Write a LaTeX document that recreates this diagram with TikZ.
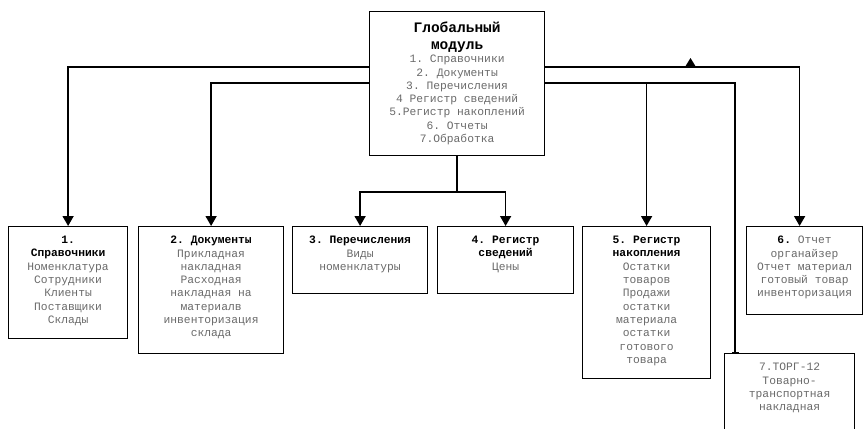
\documentclass[tikz,border=0pt]{standalone}
\usepackage{fontspec}
\setmonofont{Liberation Mono}
\usetikzlibrary{arrows.meta}
\definecolor{bodygray}{HTML}{6A6A6A}
\tikzset{
  box/.style={draw, line width=1.2pt, anchor=north west, inner sep=0pt},
  txt/.style={anchor=north, align=center, font=\fontsize{11.3}{13.3}\selectfont\ttfamily, text=bodygray, inner sep=0pt},
  bigtitle/.style={anchor=north, align=center, font=\fontsize{14.5}{17}\selectfont\ttfamily\bfseries, text=black, inner sep=0pt},
  conn/.style={line width=1.6pt},
  arr/.style={conn, -{Triangle[width=11pt,length=10pt]}},
  barend/.style={conn, -{Bar[width=7pt,line width=1.2pt]}},
}
\newcommand{\ttl}[1]{\textcolor{black}{\bfseries #1}}
\begin{document}
\begin{tikzpicture}[x=1pt,y=-1pt]
\useasboundingbox (0,0) rectangle (866,428);
\clip (0,0) rectangle (866,428);
\fill[white] (0,0) rectangle (866,428);

% levels of the connectors
\coordinate (yA) at (0,67);
\coordinate (yB) at (0,83);
\coordinate (yC) at (0,192);

% central box
\node[box, minimum width=175pt, minimum height=144pt] (g) at (369,11) {};
\node[bigtitle] (gt) at ([yshift=-11pt]g.north) {Глобальный\\модуль};
\node[txt] (gb) at ([yshift=-44pt]g.north) {1. Справочники\\2. Документы\\3. Перечисления\\4 Регистр сведений\\5.Регистр накоплений\\6. Отчеты\\7.Обработка};

% bottom boxes
\node[box, minimum width=119pt, minimum height=112pt] (b1) at (8,226) {};
\node[txt] (t1) at ([yshift=-10pt]b1.north) {\ttl{1.}\\\ttl{Справочники}\\Номенклатура\\Сотрудники\\Клиенты\\Поставщики\\Склады};

\node[box, minimum width=145pt, minimum height=127pt] (b2) at (138,226) {};
\node[txt] (t2) at ([yshift=-10pt]b2.north) {\ttl{2. Документы}\\Прикладная\\накладная\\Расходная\\накладная на\\материалв\\инвенторизация\\склада};

\node[box, minimum width=135pt, minimum height=67pt] (b3) at (292,226) {};
\node[txt] (t3) at ([yshift=-10pt]b3.north) {\ttl{3. Перечисления}\\Виды\\номенклатуры};

\node[box, minimum width=136pt, minimum height=67pt] (b4) at (437,226) {};
\node[txt] (t4) at ([yshift=-10pt]b4.north) {\ttl{4. Регистр}\\\ttl{сведений}\\Цены};

\node[box, minimum width=128pt, minimum height=152pt] (b5) at (582,226) {};
\node[txt] (t5) at ([yshift=-10pt]b5.north) {\ttl{5. Регистр}\\\ttl{накопления}\\Остатки\\товаров\\Продажи\\остатки\\материала\\остатки\\готового\\товара};

\node[box, minimum width=116pt, minimum height=88pt] (b6) at (746,226) {};
\node[txt] (t6) at ([yshift=-10pt]b6.north) {\ttl{6.} Отчет\\органайзер\\Отчет материал\\готовый товар\\инвенторизация};

\node[box, minimum width=130pt, minimum height=110pt] (b7) at (724,353) {};
\node[txt] (t7) at ([yshift=-10pt]b7.north) {7.ТОРГ-12\\Товарно-\\транспортная\\накладная};

% connectors
\draw[arr] (g.west |- yA) -| (b1.north);
\draw[arr] (g.west |- yB) -| (b2.north);
\draw[conn] (g.south) -- (g.south |- yC);
\draw[arr] (g.south |- yC) -| (b3.north);
\draw[arr] (g.south |- yC) -| (b4.north);
\draw[arr] (g.east |- yA) -| ([xshift=-5pt]b6.north);
\draw[arr] (g.east |- yB) -| (b5.north);
\draw[barend] (b5.north |- yB) -| ([xshift=11pt]b7.north west);

% small triangle on the upper right line
\fill (685,67) -- (690.5,58) -- (696,67) -- cycle;
\end{tikzpicture}
\end{document}
